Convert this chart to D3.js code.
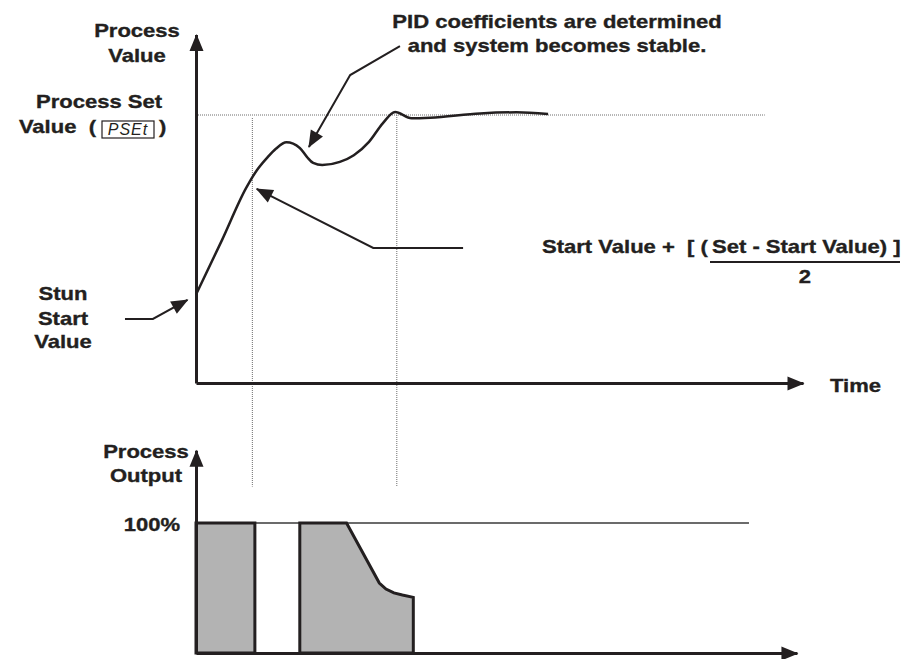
<!DOCTYPE html>
<html>
<head>
<meta charset="utf-8">
<script src="https://cdn.jsdelivr.net/npm/d3@7"></script>
<style>
  body { margin: 0; background: #fff; }
  svg { display: block; }
  text { font-family: "Liberation Sans", Arial, sans-serif; font-weight: bold; font-size: 19px; fill: #231f20; stroke: #231f20; stroke-width: 0.35px; white-space: pre; }
</style>
</head>
<body>
<svg width="913" height="659"></svg>
<script>
// process value response (time units, % of set value)
var pvTime  = [0, 4.3, 8.2, 10.0, 11.7, 13.2, 14.9, 17.1, 18.3, 19.3, 20.8, 23.7, 26.0, 28.5, 30.8, 32.8, 35.5, 38.6, 46.8, 52.8, 58.0];
var pvValue = [33, 53.4, 72.5, 79.3, 84.0, 87.5, 89.8, 87.7, 84.3, 82.1, 81.3, 82.5, 85.0, 90.0, 97.0, 101.1, 98.8, 99.0, 100.6, 101.0, 100.4];

// process output (% of full output)
var bar1Time = [0, 0, 9.7, 9.7];
var bar1Out  = [0, 100, 100, 0];
var bar2Time = [17.1, 17.1, 24.8, 30.2, 31.3, 32.6, 34.0, 35.8, 35.8];
var bar2Out  = [0, 100, 100, 53.8, 49.2, 46.2, 44.6, 42.8, 0];

var setValue = 100, setLineEnd = 93.7;
var outFull = 100, outLineEnd = 91.1;
var guideTimes = [9.2, 33.0];

// annotation leader lines [time, value]
var pidArrow   = [[33.6, 125.7], [25.4, 114.9], [18.6, 88.1]];
var halfArrow  = [[44.0, 50.4], [29.2, 50.4], [10.0, 72.4]];
var startArrow = [[-11.7, 23.9], [-7.1, 23.9], [-1.4, 31.0]];

var svg = d3.select("svg");
var ink = "#231f20";

var x = d3.scaleLinear().domain([0, 100]).range([196, 803]);
var y = d3.scaleLinear().domain([0, 100]).range([383, 115]);
var yo = d3.scaleLinear().domain([0, 100]).range([653, 523]);

svg.append("defs").append("marker")
  .attr("id", "head")
  .attr("markerUnits", "userSpaceOnUse")
  .attr("viewBox", "-18 -9 20 18")
  .attr("markerWidth", 20).attr("markerHeight", 18)
  .attr("refX", 0).attr("refY", 0)
  .attr("orient", "auto")
  .append("path")
  .attr("d", "M1,0L-16,-7L-16,7Z")
  .attr("fill", ink);

var line = d3.line()
  .x(function(d) { return x(d[0]); })
  .y(function(d) { return y(d[1]); });

// set value dotted line
svg.append("line")
  .attr("x1", x(0)).attr("x2", x(setLineEnd))
  .attr("y1", y(setValue)).attr("y2", y(setValue))
  .attr("stroke", "#6d6d6d").attr("stroke-width", 1)
  .attr("stroke-dasharray", "1,1");

// vertical guide lines
svg.selectAll(".guide")
  .data(guideTimes)
  .enter().append("line")
  .attr("class", "guide")
  .attr("x1", function(d) { return x(d) + 0.5; })
  .attr("x2", function(d) { return x(d) + 0.5; })
  .attr("y1", function(d, i) { return i == 0 ? y(setValue) + 3 : y(setValue); })
  .attr("y2", yo(128))
  .attr("stroke", "#6d6d6d").attr("stroke-width", 1)
  .attr("stroke-dasharray", "1,1");

// axes (top chart)
var xAxisScale = x.copy().domain([0, 100]);
var yAxisScale = y.copy().domain([0, 130]).range([y(0), y(130)]);

svg.append("g")
  .attr("transform", "translate(0," + y(0) + ")")
  .call(d3.axisBottom(xAxisScale).tickValues([]).tickSizeOuter(0))
  .select(".domain")
  .attr("stroke", ink).attr("stroke-width", 3)
  .attr("marker-end", "url(#head)");

svg.append("g")
  .attr("transform", "translate(" + x(0) + ",0)")
  .call(d3.axisLeft(yAxisScale).tickValues([]).tickSizeOuter(0))
  .select(".domain")
  .attr("stroke", ink).attr("stroke-width", 3)
  .attr("marker-end", "url(#head)");

// response curve
svg.append("path")
  .datum(d3.zip(pvTime, pvValue))
  .attr("fill", "none")
  .attr("stroke", ink)
  .attr("stroke-width", 2.5)
  .attr("stroke-linejoin", "round")
  .attr("d", line.curve(d3.curveMonotoneX));

// leader arrows
var straight = d3.line()
  .x(function(d) { return x(d[0]); })
  .y(function(d) { return y(d[1]); });

[pidArrow, halfArrow, startArrow].forEach(function(pts) {
  svg.append("path")
    .attr("d", straight(pts))
    .attr("fill", "none")
    .attr("stroke", ink)
    .attr("stroke-width", 2)
    .attr("marker-end", "url(#head)");
});

// bottom chart
var outLine = d3.line()
  .x(function(d) { return x(d[0]); })
  .y(function(d) { return yo(d[1]); });

svg.append("line")
  .attr("x1", x(0)).attr("x2", x(outLineEnd))
  .attr("y1", yo(outFull)).attr("y2", yo(outFull))
  .attr("stroke", "#3a3a3a").attr("stroke-width", 1.5);

[[bar1Time, bar1Out], [bar2Time, bar2Out]].forEach(function(b) {
  svg.append("path")
    .attr("d", outLine(d3.zip(b[0], b[1])) + "Z")
    .attr("fill", "#b3b3b3")
    .attr("stroke", ink)
    .attr("stroke-width", 3)
    .attr("stroke-linejoin", "miter");
});

var xoAxisScale = x.copy().domain([0, 99]).range([x(0), x(99)]);
var yoAxisScale = yo.copy().domain([0, 156]).range([yo(0), yo(156)]);

svg.append("g")
  .attr("transform", "translate(0," + yo(0) + ")")
  .call(d3.axisBottom(xoAxisScale).tickValues([]).tickSizeOuter(0))
  .select(".domain")
  .attr("stroke", ink).attr("stroke-width", 3)
  .attr("marker-end", "url(#head)");

svg.append("g")
  .attr("transform", "translate(" + x(0) + ",0)")
  .call(d3.axisLeft(yoAxisScale).tickValues([]).tickSizeOuter(0))
  .select(".domain")
  .attr("stroke", ink).attr("stroke-width", 3)
  .attr("marker-end", "url(#head)");

// labels
function label(txt, lx, ly, anchor) {
  return svg.append("text")
    .attr("transform", "translate(" + lx + "," + ly + ") scale(1.16,1)")
    .attr("text-anchor", anchor || "start")
    .text(txt);
}

label("Process", 137, 37, "middle");
label("Value", 137, 62, "middle");
label("Process Set", 99, 108, "middle");
label("Value  (", 96, 133, "end");
label(")", 159, 133, "start");

// PSEt display box
svg.append("rect")
  .attr("x", 102).attr("y", 121).attr("width", 52).attr("height", 17)
  .attr("fill", "none").attr("stroke", ink).attr("stroke-width", 1.2);
svg.append("text")
  .attr("x", 128).attr("y", 135)
  .attr("text-anchor", "middle")
  .style("font-weight", "normal")
  .style("stroke", "none")
  .style("font-size", "16px")
  .style("font-style", "italic")
  .style("letter-spacing", "1px")
  .text("PSEt");

label("PID coefficients are determined", 557, 28, "middle");
label("and system becomes stable.", 557, 52, "middle");

label("Start Value +  [ (", 542, 253, "start");
label("Set - Start Value) ]", 712, 253, "start");
svg.append("line")
  .attr("x1", 710).attr("x2", 900).attr("y1", 262).attr("y2", 262)
  .attr("stroke", ink).attr("stroke-width", 2);
label("2", 805, 283, "middle");

label("Time", 830, 392, "start");

label("Stun", 63, 300, "middle");
label("Start", 63, 325, "middle");
label("Value", 63, 348, "middle");

label("Process", 146, 458, "middle");
label("Output", 146, 482, "middle");
label("100%", 180, 531, "end");
</script>
</body>
</html>
